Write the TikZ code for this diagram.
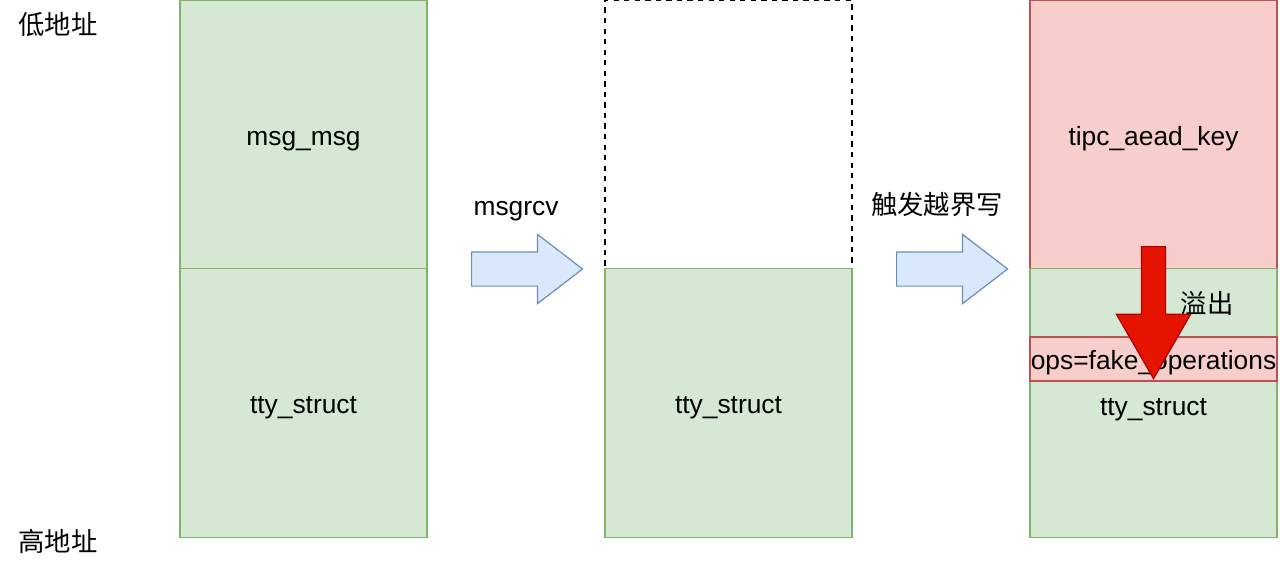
\documentclass[tikz,border=0pt]{standalone}
\usepackage{fontspec}
\setmainfont{Liberation Sans}
\newfontfamily\cjk{Noto Sans CJK SC}
\usepackage{tikz}
\usetikzlibrary{shapes.arrows, positioning}
\definecolor{gfill}{HTML}{D5E8D4}
\definecolor{gline}{HTML}{82B366}
\definecolor{rfill}{HTML}{F8CECC}
\definecolor{rline}{HTML}{B85450}
\definecolor{bfill}{HTML}{DAE8FC}
\definecolor{bline}{HTML}{6C8EBF}
\definecolor{hotred}{HTML}{E51400}
\definecolor{hotline}{HTML}{B20000}
\tikzstyle{label} = [font=\fontsize{15}{18}\selectfont, text height=15pt, text depth=3pt]
\tikzstyle{cjklabel} = [font=\cjk\fontsize{15}{18}\selectfont]
\tikzstyle{chunk} = [rectangle, minimum width=4.94cm, minimum height=5.37cm, inner sep=0pt, outer sep=0pt, line width=0.7pt, text centered, label]
\tikzstyle{greenchunk} = [chunk, draw=gline, fill=gfill]
\tikzstyle{redchunk} = [chunk, draw=rline, fill=rfill]
\tikzstyle{freed} = [chunk, draw=black, dashed, thick, fill=white]
\tikzstyle{flow} = [single arrow, draw=bline, fill=bfill, line width=0.7pt, minimum height=2.22cm, single arrow head extend=0.35cm, single arrow tip angle=75, inner sep=0pt, anchor=tail]
\tikzstyle{overflow} = [single arrow, draw=hotline, fill=hotred, line width=0.7pt, minimum height=2.64cm, single arrow head extend=0.5cm, single arrow tip angle=60, inner sep=0pt, rotate=-90, anchor=tail]

\begin{document}
\begin{tikzpicture}[x=0.02cm, y=-0.02cm]
\useasboundingbox (0,0) rectangle (1280,561);
% left column
\node (msg) [greenchunk] at (303.5,134.5) {msg\_msg};
\node (tty1) [greenchunk, below=0pt of msg] {tty\_struct};
% middle column
\node (hole) [freed] at (728.5,134.5) {};
\node (tty2) [greenchunk, below=0pt of hole] {tty\_struct};
% right column
\node (key) [redchunk] at (1153.5,134.5) {tipc\_aead\_key};
\node (tty3) [greenchunk, below=0pt of key] {};
\node (ops) [rectangle, draw=rline, fill=rfill, line width=0.7pt, minimum width=4.94cm, minimum height=0.88cm, inner sep=0pt, label] at (1153.5,359) {ops=fake\_operations};
\node (ttytext) [label] at (1153.5,405) {tty\_struct};
\node (hit) [overflow] at (1153.5,246) {\rule{0pt}{0.46cm}};
\node (spill) [cjklabel] at (1207,303) {溢出};

% arrows between columns
\node (step1) [flow] at (471,269) {\rule{0pt}{0.66cm}};
\node (step2) [flow] at (896,269) {\rule{0pt}{0.66cm}};
\node (recv) [label] at (516,205) {msgrcv};
\node (trigger) [cjklabel] at (937,205) {触发越界写};

% address labels
\node (low) [cjklabel] at (58,25) {低地址};
\node (high) [cjklabel] at (58,541) {高地址};
\end{tikzpicture}
\end{document}
